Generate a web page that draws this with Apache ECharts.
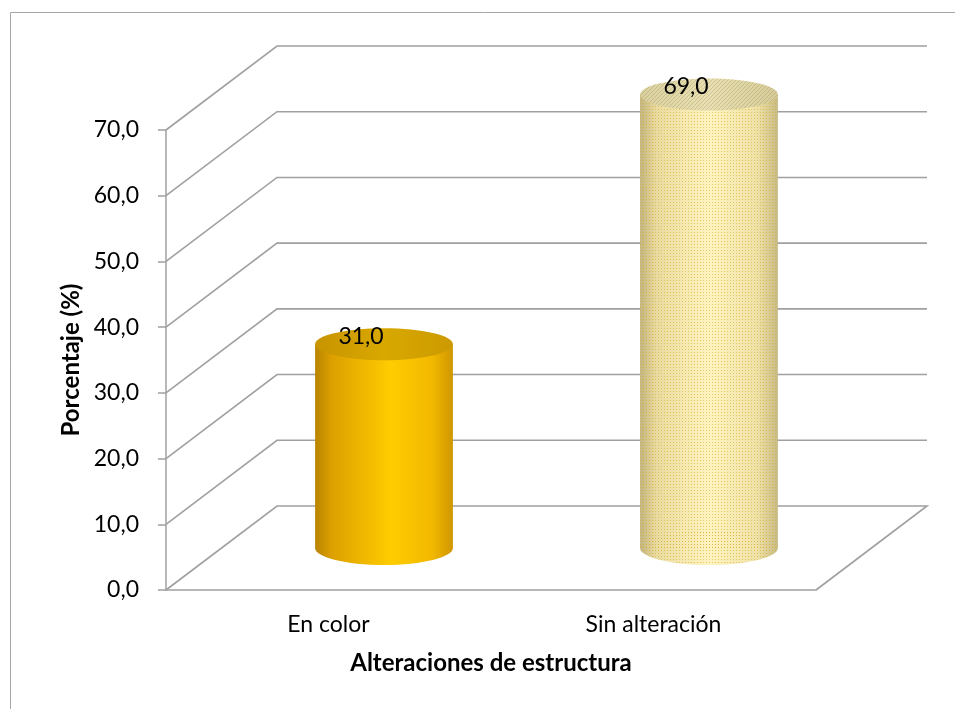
<!DOCTYPE html>
<html>
<head>
<meta charset="utf-8">
<title>Alteraciones de estructura</title>
<script src="https://cdn.jsdelivr.net/npm/echarts@6/dist/echarts.min.js"></script>
<style>
  html, body { margin: 0; padding: 0; background: #fff; }
  #demo { width: 955px; height: 709px; }
</style>
</head>
<body>
<div id="demo"></div>
<script>
var categories = ['En color', 'Sin alteración'];
var values = [31.0, 69.0];
var yTicks = [0, 10, 20, 30, 40, 50, 60, 70];

// profundidad del "3D" (desplazamiento de la pared del fondo)
var DX = 111, DY = -84;
var gridColor = '#a0a0a0';

// textura de puntos para la segunda columna
function dotPattern() {
    var c = document.createElement('canvas');
    c.width = 3; c.height = 3;
    var ctx = c.getContext('2d');
    ctx.fillStyle = 'rgba(215,170,40,0.6)';
    ctx.fillRect(1, 1, 1, 1);
    return c;
}
function hatchPattern() {
    var c = document.createElement('canvas');
    c.width = 4; c.height = 4;
    var ctx = c.getContext('2d');
    ctx.fillStyle = 'rgba(150,130,60,0.3)';
    ctx.fillRect(0, 3, 1, 1);
    ctx.fillRect(1, 2, 1, 1);
    ctx.fillRect(2, 1, 1, 1);
    ctx.fillRect(3, 0, 1, 1);
    return c;
}

function hGrad(stops) {
    return new echarts.graphic.LinearGradient(0, 0, 1, 0, stops.map(function (s) {
        return { offset: s[0], color: s[1] };
    }));
}

var barStyles = [
    {
        body: hGrad([[0, '#b88400'], [0.12, '#dda000'], [0.55, '#ffcc00'], [0.85, '#f2b800'], [1, '#cf9600']]),
        top: hGrad([[0, '#c89400'], [0.5, '#d8a800'], [1, '#cc9a00']]),
        pattern: null
    },
    {
        body: hGrad([[0, '#c2b480'], [0.12, '#eadca0'], [0.5, '#fff4c0'], [0.85, '#efe2a8'], [1, '#c8ba84']]),
        top: hGrad([[0, '#dad0a0'], [0.5, '#e8e0b4'], [1, '#d6cc9a']]),
        pattern: true
    }
];
var dots = dotPattern();
var hatch = hatchPattern();

var myChart = echarts.init(document.getElementById('demo'));

var option = {
    animation: false,
    backgroundColor: '#ffffff',
    textStyle: { fontFamily: 'Lato, "Open Sans", sans-serif', color: '#000' },
    graphic: [{
        type: 'rect',
        shape: { x: 10.5, y: 12.5, width: 1000, height: 800 },
        style: { fill: 'none', stroke: '#a6a6a6', lineWidth: 1 },
        silent: true
    }],
    grid: { left: 166, right: 139, top: 130, bottom: 119 },
    xAxis: {
        type: 'category',
        data: categories,
        name: 'Alteraciones de estructura',
        nameLocation: 'middle',
        nameGap: 61,
        nameTextStyle: { fontSize: 24, fontWeight: 'bold', color: '#000', fontFamily: 'Lato' },
        axisLine: { lineStyle: { color: gridColor, width: 1.5 } },
        axisTick: { length: 7, lineStyle: { color: gridColor, width: 1.5 } },
        axisLabel: { fontSize: 23, color: '#000', margin: 23, fontFamily: 'Lato' }
    },
    yAxis: {
        type: 'value',
        min: 0,
        max: 70,
        interval: 10,
        name: 'Porcentaje (%)',
        nameLocation: 'middle',
        nameRotate: 90,
        nameGap: 82,
        nameTextStyle: { fontSize: 24, fontWeight: 'bold', color: '#000', fontFamily: 'Lato' },
        axisLine: { show: true, lineStyle: { color: gridColor, width: 1.5 } },
        axisTick: { show: true, length: 8, lineStyle: { color: gridColor, width: 1.5 } },
        axisLabel: {
            fontSize: 23, color: '#000', margin: 27, fontFamily: 'Lato',
            formatter: function (v) { return v.toFixed(1).replace('.', ','); }
        },
        splitLine: { show: false }
    },
    series: [
        {
            // pared lateral, pared del fondo y piso
            type: 'custom',
            z: 1,
            silent: true,
            data: yTicks.map(function (v) { return [0, v]; }),
            renderItem: function (params, api) {
                var v = api.value(1);
                var cs = params.coordSys;
                var y = api.coord([0, v])[1];
                var left = cs.x, right = cs.x + cs.width;
                var pts = [[left, y], [left + DX, y + DY], [right + DX, y + DY]];
                if (v === 0) pts.push([right, y]);
                return {
                    type: 'polyline',
                    shape: { points: pts },
                    style: { stroke: gridColor, lineWidth: 1.6, fill: 'none' }
                };
            }
        },
        {
            // columnas cilíndricas
            type: 'custom',
            z: 3,
            data: values.map(function (v, i) { return [i, v]; }),
            renderItem: function (params, api) {
                var i = api.value(0);
                var v = api.value(1);
                var top = api.coord([i, v]);
                var base = api.coord([i, 0]);
                var band = api.size([1, 0])[0];
                var rx = band * 0.212;
                var ry = 16;
                var cx = top[0] + DX / 2;
                var yTop = top[1] + DY / 2;
                var yBot = base[1] + DY / 2;
                var st = barStyles[i];
                var children = [
                    { type: 'ellipse', shape: { cx: cx, cy: yBot, rx: rx, ry: ry + 1 }, style: { fill: st.body } },
                    { type: 'rect', shape: { x: cx - rx, y: yTop, width: rx * 2, height: yBot - yTop }, style: { fill: st.body } }
                ];
                if (st.pattern) {
                    children.push(
                        { type: 'ellipse', shape: { cx: cx, cy: yBot, rx: rx, ry: ry + 1 }, style: { fill: { image: dots, repeat: 'repeat' } } },
                        { type: 'rect', shape: { x: cx - rx, y: yTop, width: rx * 2, height: yBot - yTop }, style: { fill: { image: dots, repeat: 'repeat' } } }
                    );
                }
                children.push({ type: 'ellipse', shape: { cx: cx, cy: yTop, rx: rx, ry: ry }, style: { fill: st.top } });
                if (st.pattern) {
                    children.push({ type: 'ellipse', shape: { cx: cx, cy: yTop, rx: rx, ry: ry }, style: { fill: { image: hatch, repeat: 'repeat' } } });
                }
                children.push({
                    type: 'text',
                    style: {
                        x: cx - 23, y: yTop - 8,
                        text: v.toFixed(1).replace('.', ','),
                        fill: '#000',
                        font: '23px Lato',
                        align: 'center',
                        verticalAlign: 'middle'
                    }
                });
                return { type: 'group', children: children };
            }
        }
    ]
};
myChart.setOption(option);
</script>
</body>
</html>
